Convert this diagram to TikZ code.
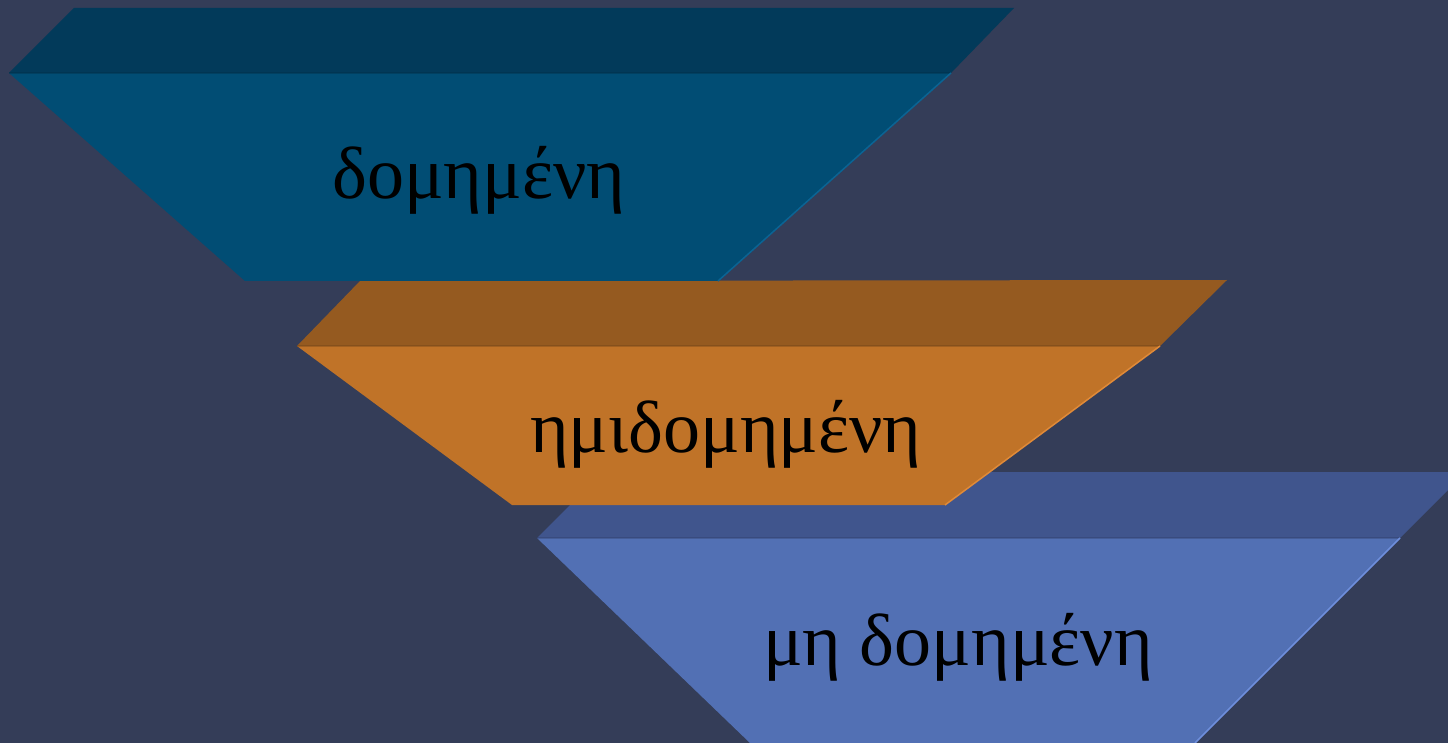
\documentclass[tikz,border=0pt]{standalone}
\usepackage{fontspec}
\setmainfont{Liberation Serif}
\definecolor{bg}{HTML}{343D58}
\definecolor{topA}{HTML}{023A5A}
\definecolor{frontA}{HTML}{014D74}
\definecolor{edgeA}{HTML}{0A6494}
\definecolor{topB}{HTML}{955A20}
\definecolor{frontB}{HTML}{C07328}
\definecolor{edgeB}{HTML}{E08A38}
\definecolor{topC}{HTML}{40558D}
\definecolor{frontC}{HTML}{5270B4}
\definecolor{edgeC}{HTML}{6E8EDC}
\tikzset{
  lbl/.style={anchor=base, text=black, font=\fontsize{74}{80}\selectfont, inner sep=0pt},
  seam/.style={line width=1.2pt, opacity=0.35},
  rim/.style={line width=1.5pt}
}
\begin{document}
\begin{tikzpicture}[x=1pt,y=-1pt]
\useasboundingbox (0,0) rectangle (1448,743);
\fill[bg] (0,0) rectangle (1448,743);
% shape C
\fill[topC] (537,538) -- (603,472) -- (1466,472) -- (1400,538) -- cycle;
\fill[frontC] (537,538) -- (1400,538) -- (1195,743) -- (750,743) -- cycle;
\draw[seam,topC!70!black] (537,538) -- (1400,538);
\draw[rim,edgeC] (1400,538) -- (1195,743);
\node[lbl] (c) at (958,665) {μη δομημένη};
% shape B
\fill[topB] (297,346) -- (360,281) -- (1227,280) -- (1160,346) -- cycle;
\fill[frontB] (297,346) -- (1160,346) -- (945,505) -- (512,505) -- cycle;
\draw[seam,topB!70!black] (297,346) -- (1160,346);
\draw[rim,edgeB] (1160,346) -- (945,505);
\node[lbl] (b) at (726,452) {ημιδομημένη};
% shape A
\fill[topA] (9,73) -- (74,8) -- (1014,8) -- (951,73) -- cycle;
\fill[frontA] (9,73) -- (951,73) -- (718,281) -- (245,281) -- cycle;
\draw[seam,topA!70!black] (9,73) -- (951,73);
\draw[rim,edgeA] (951,73) -- (718,281);
\node[lbl] (a) at (479,199) {δομημένη};
\end{tikzpicture}
\end{document}
